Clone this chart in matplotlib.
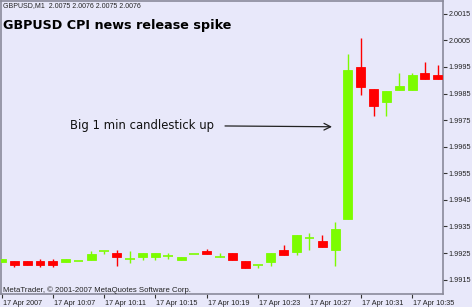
import matplotlib.pyplot as plt
import numpy as np
from matplotlib.transforms import ScaledTranslation

# M1 candles, 17 Apr 2007 10:03 - 10:37
times = ["10:%02d" % m for m in range(3, 38)]
open_ = [1.99216, 1.99220, 1.99220, 1.99220, 1.99220, 1.99216, 1.99220, 1.99224, 1.99257, 1.99250,
         1.99227, 1.99235, 1.99235, 1.99239, 1.99224, 1.99246, 1.99257, 1.99235, 1.99250, 1.99220,
         1.99205, 1.99216, 1.99261, 1.99254, 1.99306, 1.99295, 1.99261, 1.99378, 1.99949, 1.99867,
         1.99818, 1.99863, 1.99863, 1.99927, 1.99919]
high = [1.99227, 1.99220, 1.99220, 1.99227, 1.99227, 1.99227, 1.99220, 1.99257, 1.99257, 1.99261,
        1.99257, 1.99250, 1.99250, 1.99250, 1.99235, 1.99246, 1.99265, 1.99250, 1.99250, 1.99220,
        1.99205, 1.99250, 1.99280, 1.99318, 1.99325, 1.99318, 1.99367, 1.99998, 2.00058, 1.99867,
        1.99859, 1.99927, 1.99927, 1.99968, 1.99957]
low = [1.99216, 1.99197, 1.99205, 1.99197, 1.99197, 1.99216, 1.99220, 1.99224, 1.99246, 1.99201,
       1.99212, 1.99224, 1.99224, 1.99227, 1.99224, 1.99246, 1.99246, 1.99235, 1.99224, 1.99194,
       1.99194, 1.99201, 1.99242, 1.99242, 1.99261, 1.99273, 1.99201, 1.99378, 1.99844, 1.99765,
       1.99765, 1.99863, 1.99863, 1.99904, 1.99904]
close = [1.99227, 1.99205, 1.99205, 1.99205, 1.99205, 1.99227, 1.99220, 1.99246, 1.99257, 1.99235,
         1.99227, 1.99250, 1.99250, 1.99239, 1.99235, 1.99246, 1.99246, 1.99235, 1.99224, 1.99194,
         1.99205, 1.99250, 1.99242, 1.99318, 1.99306, 1.99273, 1.99340, 1.99938, 1.99874, 1.99803,
         1.99859, 1.99878, 1.99919, 1.99904, 1.99904]

tick_pos = [0, 4, 8, 12, 16, 20, 24, 28, 32]
tick_labels = ["17 Apr 2007", "17 Apr 10:07", "17 Apr 10:11", "17 Apr 10:15", "17 Apr 10:19",
               "17 Apr 10:23", "17 Apr 10:27", "17 Apr 10:31", "17 Apr 10:35"]
y_ticks = [1.9915, 1.9925, 1.9935, 1.9945, 1.9955, 1.9965, 1.9975, 1.9985, 1.9995, 2.0005, 2.0015]

bg = '#e8e8fa'
up_col = '#7cfc00'
dn_col = '#ff0000'
frame = '#8a8a9a'
small_font = 'Liberation Sans'

W, H = 472, 307
fig = plt.figure(figsize=(W / 100, H / 100), dpi=100, facecolor=bg)
ax = fig.add_axes([1 / W, 13 / H, 442 / W, 293 / H], facecolor=bg)

x = np.arange(len(times))
o = np.array(open_); c = np.array(close); h = np.array(high); l = np.array(low)
cols = np.where(c >= o, up_col, dn_col)

# wicks, bodies, and flat (open == close) candles
ax.vlines(x, l, h, colors=cols, linewidth=1, zorder=2)
body = np.abs(c - o)
flat = body < 1e-7
ax.bar(x[~flat], body[~flat], bottom=np.minimum(o, c)[~flat], width=0.7,
       color=cols[~flat], edgecolor=cols[~flat], linewidth=0.6, zorder=3)
ax.hlines(o[flat], x[flat] - 0.38, x[flat] + 0.38, colors=cols[flat], linewidth=1.2, zorder=3)

ax.set_xlim(-0.04, 34.41)
ax.set_ylim(1.99096, 2.00198)

ax.yaxis.tick_right()
ax.set_yticks(y_ticks)
ax.set_yticklabels(["%.4f" % v for v in y_ticks], fontfamily=small_font)
ax.set_xticks(tick_pos)
ax.set_xticklabels(tick_labels, ha='left', fontfamily=small_font)
ax.tick_params(axis='both', direction='out', length=3, width=0.8, color='#333333',
               labelsize=5.2, labelcolor='#222222', pad=1)
for lab in ax.get_xticklabels():
    lab.set_transform(lab.get_transform() + ScaledTranslation(1 / 100, 0, fig.dpi_scale_trans))

for s in ax.spines.values():
    s.set_color(frame)
    s.set_linewidth(1.2)

# annotation pointing to the spike candle
ax.text(5.34, 1.99728, "Big 1 min candlestick up", fontsize=8.4, color='#111111',
        va='center', ha='left')
ax.annotate("", xy=(25.76, 1.99725), xytext=(17.42, 1.99728),
            arrowprops=dict(arrowstyle='->', color='#222222', lw=0.9,
                            mutation_scale=12, shrinkA=0, shrinkB=0))

fig.text(3 / W, 1 - 6 / H, "GBPUSD,M1  2.0075 2.0076 2.0075 2.0076", fontsize=5.0,
         fontfamily=small_font, color='#222222', va='center', ha='left')
fig.text(3 / W, 1 - 25 / H, "GBPUSD CPI news release spike", fontsize=9.2,
         fontweight='bold', color='black', va='center', ha='left')
fig.text(3 / W, 1 - 290 / H, "MetaTrader, \u00a9 2001-2007 MetaQuotes Software Corp.",
         fontsize=5.6, fontfamily=small_font, color='#222222', va='center', ha='left')

fig.savefig("out.png", dpi=100, facecolor=bg)
